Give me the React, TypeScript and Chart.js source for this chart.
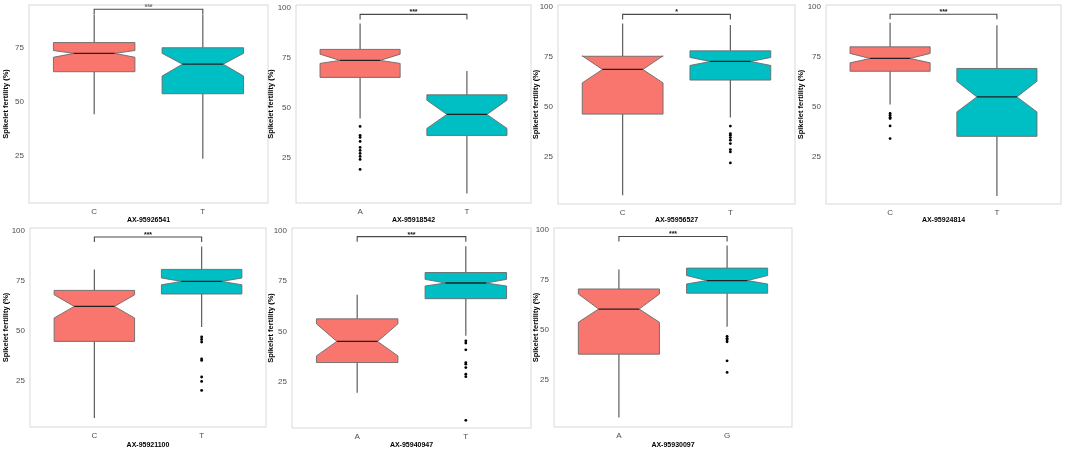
import React, { useEffect, useRef } from "react";
import { Chart, registerables } from "chart.js";

Chart.register(...registerables);
Chart.defaults.font.family = "'Liberation Sans', Arial, sans-serif";

// ---------- data ----------
const markers = ["AX-95926541", "AX-95918542", "AX-95956527", "AX-95924814", "AX-95921100", "AX-95940947", "AX-95930097"];
const alleles = [["C", "T"], ["A", "T"], ["C", "T"], ["C", "T"], ["C", "T"], ["A", "T"], ["A", "G"]];
const whiskerLow = [[44.3, 23.7], [44.5, 7], [5.9, 44.7], [51.2, 5.5], [6.2, 51.7], [19.5, 47.8], [6.2, 51.5]];
const lowerHinge = [[64.0, 53.8], [65, 36], [46.4, 63.4], [67.8, 35.3], [44.5, 68.2], [34.5, 66.2], [37.8, 68.2]];
const notchLow = [[70.7, 62.0], [72, 39.5], [62, 70.7], [72, 47.5], [56.2, 72.8], [37.8, 72.5], [53.7, 72.8]];
const medians = [[72.5, 67.5], [73.5, 46.5], [68.7, 72.7], [74.2, 55], [62, 74.5], [45, 74], [60.3, 74.5]];
const notchHigh = [[73.8, 72.5], [76.6, 53.6], [75.5, 74.7], [76.7, 62.8], [67.8, 76.2], [53.7, 75.8], [67.8, 77]];
const upperHinge = [[77.5, 75.1], [79, 56.3], [75.3, 78], [80, 69.2], [70, 80.5], [56.2, 79.2], [70.3, 80.7]];
const whiskerHigh = [[90.5, 90.5], [92, 68.2], [91.7, 90.9], [92, 90.8], [80.5, 92], [68.2, 92.3], [80, 92]];
const outliers: number[][][] = [
  [[], []],
  [[40.5, 36, 35, 33, 30, 28.5, 27, 25.5, 24, 19], []],
  [[], [40.4, 36.7, 35.9, 34.7, 33.4, 31.7, 28.7, 27.5, 22]],
  [[46.7, 45.8, 44.7, 44.2, 40.5, 34.2], []],
  [[], [46.7, 45.5, 44.2, 35.8, 35, 26.7, 24.5, 20]],
  [[], [45.3, 44.2, 40.8, 34.5, 33.7, 32, 28.7, 27.5, 5.8]],
  [[], [46.7, 45.7, 45, 44, 34.5, 28.7]],
];
const bracketY = [92.9, 96.5, 96.2, 96.3, 96.7, 97, 96.5];
const signif = ["***", "***", "*", "***", "***", "***", "***"];
const yMin = [3.2, 2.2, 1.5, 1.5, 1.7, 2, 1.5];
const yMax = [94.9, 101.2, 100.9, 100.9, 101.2, 101.3, 100.7];
const yTicks = [25, 50, 75, 100];
const xMin = 0.4;
const xMax = 2.6;

// ---------- layout (pixels) ----------
type Geo = { x: number; y: number; w: number; h: number; l: number; r: number; t: number; b: number };
const geos: Geo[] = [
  { x: 0, y: 0, w: 270, h: 228, l: 29, r: 268, t: 5, b: 203 },
  { x: 265, y: 0, w: 270, h: 228, l: 296, r: 533, t: 5, b: 203 },
  { x: 530, y: 0, w: 270, h: 228, l: 558, r: 795, t: 5, b: 204 },
  { x: 795, y: 0, w: 270, h: 228, l: 826, r: 1061, t: 5, b: 204 },
  { x: 0, y: 222, w: 270, h: 231, l: 30, r: 267, t: 228, b: 427 },
  { x: 265, y: 222, w: 270, h: 231, l: 292, r: 531, t: 228, b: 428 },
  { x: 530, y: 222, w: 270, h: 231, l: 554, r: 792, t: 228, b: 427 },
];
const fills = ["#F8766D", "#00BFC4"];
const BOX_HALF = 0.375;

const boxPlugin = {
  id: "notchedBoxes",
  beforeDatasetsDraw(chart: any, _args: any, opts: any) {
    const i = opts.panel as number;
    const ctx = chart.ctx as CanvasRenderingContext2D;
    const xs = chart.scales.x;
    const ys = chart.scales.y;
    const Y = (v: number) => ys.getPixelForValue(v);
    ctx.save();
    for (let k = 0; k < 2; k++) {
      const cx = xs.getPixelForValue(k + 1);
      const x0 = xs.getPixelForValue(k + 1 - BOX_HALF);
      const x1 = xs.getPixelForValue(k + 1 + BOX_HALF);
      const ind = (x1 - x0) * 0.25;
      // whiskers
      ctx.strokeStyle = "#5e5e5e";
      ctx.lineWidth = 1.2;
      ctx.beginPath();
      ctx.moveTo(cx, Y(upperHinge[i][k]));
      ctx.lineTo(cx, Y(whiskerHigh[i][k]));
      ctx.moveTo(cx, Y(lowerHinge[i][k]));
      ctx.lineTo(cx, Y(whiskerLow[i][k]));
      ctx.stroke();
      // notched box
      ctx.beginPath();
      ctx.moveTo(x0, Y(upperHinge[i][k]));
      ctx.lineTo(x0, Y(notchHigh[i][k]));
      ctx.lineTo(x0 + ind, Y(medians[i][k]));
      ctx.lineTo(x0, Y(notchLow[i][k]));
      ctx.lineTo(x0, Y(lowerHinge[i][k]));
      ctx.lineTo(x1, Y(lowerHinge[i][k]));
      ctx.lineTo(x1, Y(notchLow[i][k]));
      ctx.lineTo(x1 - ind, Y(medians[i][k]));
      ctx.lineTo(x1, Y(notchHigh[i][k]));
      ctx.lineTo(x1, Y(upperHinge[i][k]));
      ctx.closePath();
      ctx.fillStyle = fills[k];
      ctx.fill();
      ctx.strokeStyle = "#6a6a6a";
      ctx.lineWidth = 0.9;
      ctx.stroke();
      // median
      ctx.strokeStyle = "#222";
      ctx.lineWidth = 1.3;
      ctx.beginPath();
      ctx.moveTo(x0 + ind, Y(medians[i][k]));
      ctx.lineTo(x1 - ind, Y(medians[i][k]));
      ctx.stroke();
    }
    // significance bracket
    const bx0 = xs.getPixelForValue(1);
    const bx1 = xs.getPixelForValue(2);
    const by = Y(bracketY[i]);
    ctx.strokeStyle = "#4a4a4a";
    ctx.lineWidth = 1.1;
    ctx.beginPath();
    ctx.moveTo(bx0, by + 5);
    ctx.lineTo(bx0, by);
    ctx.lineTo(bx1, by);
    ctx.lineTo(bx1, by + 5);
    ctx.stroke();
    ctx.fillStyle = "#111";
    ctx.font = "bold 7px 'Liberation Sans', Arial, sans-serif";
    ctx.textAlign = "center";
    ctx.textBaseline = "alphabetic";
    ctx.fillText(signif[i], xs.getPixelForValue(1.5), by);
    ctx.restore();
  },
  afterDatasetsDraw(chart: any) {
    const a = chart.chartArea;
    const ctx = chart.ctx as CanvasRenderingContext2D;
    ctx.save();
    ctx.strokeStyle = "#d9d9d9";
    ctx.lineWidth = 1;
    ctx.strokeRect(a.left, a.top, a.right - a.left, a.bottom - a.top);
    ctx.restore();
  },
};

function Panel({ i }: { i: number }) {
  const ref = useRef<HTMLCanvasElement>(null);
  const g = geos[i];
  useEffect(() => {
    const pts: { x: number; y: number }[] = [];
    outliers[i].forEach((arr, k) => arr.forEach((v) => pts.push({ x: k + 1, y: v })));
    const chart = new Chart(ref.current as HTMLCanvasElement, {
      type: "scatter",
      data: {
        datasets: [
          {
            data: pts,
            pointRadius: 1.4,
            pointBackgroundColor: "#000",
            pointBorderWidth: 0,
          },
        ],
      },
      plugins: [boxPlugin as any],
      options: {
        responsive: false,
        animation: false,
        layout: { padding: { top: g.t - g.y, right: g.x + g.w - g.r, left: 0, bottom: 0 } },
        plugins: {
          legend: { display: false },
          tooltip: { enabled: false },
          notchedBoxes: { panel: i },
        } as any,
        scales: {
          x: {
            type: "linear",
            min: xMin,
            max: xMax,
            afterBuildTicks: (s: any) => {
              s.ticks = [{ value: 1 }, { value: 2 }];
            },
            afterFit: (s: any) => {
              s.height = g.y + g.h - g.b;
              s.paddingLeft = 0;
              s.paddingRight = 0;
            },
            grid: { display: false, drawTicks: false },
            border: { display: false },
            ticks: {
              padding: 4,
              maxRotation: 0,
              autoSkip: false,
              color: "#4d4d4d",
              font: { size: 8 },
              callback: (v: any) => alleles[i][Math.round(Number(v)) - 1],
            },
            title: {
              display: true,
              text: markers[i],
              color: "#000",
              font: { size: 7, weight: "bold", lineHeight: 1 },
              padding: { top: 0, bottom: 4.5 },
            },
          },
          y: {
            type: "linear",
            min: yMin[i],
            max: yMax[i],
            afterBuildTicks: (s: any) => {
              s.ticks = yTicks.filter((v) => v >= yMin[i] && v <= yMax[i]).map((v) => ({ value: v }));
            },
            afterFit: (s: any) => {
              s.width = g.l - g.x;
              s.paddingTop = 0;
              s.paddingBottom = 0;
            },
            grid: { display: false, drawTicks: false },
            border: { display: false },
            ticks: {
              padding: 5,
              color: "#4d4d4d",
              font: { size: 8 },
              callback: (v: any) => String(v),
            },
            title: {
              display: true,
              text: "Spikelet fertility (%)",
              color: "#000",
              font: { size: 7.5, weight: "bold", lineHeight: 1 },
              padding: { top: 1.75, bottom: 0 },
            },
          },
        },
      },
    } as any);
    return () => chart.destroy();
  }, [i]);
  return (
    <div style={{ position: "absolute", left: g.x, top: g.y, width: g.w, height: g.h }}>
      <canvas ref={ref} width={g.w} height={g.h} style={{ display: "block" }} />
    </div>
  );
}

export default function App() {
  return (
    <div style={{ position: "fixed", left: 0, top: 0, width: 1065, height: 453, background: "#fff", overflow: "hidden" }}>
      {markers.map((_, i) => (
        <Panel key={i} i={i} />
      ))}
    </div>
  );
}
